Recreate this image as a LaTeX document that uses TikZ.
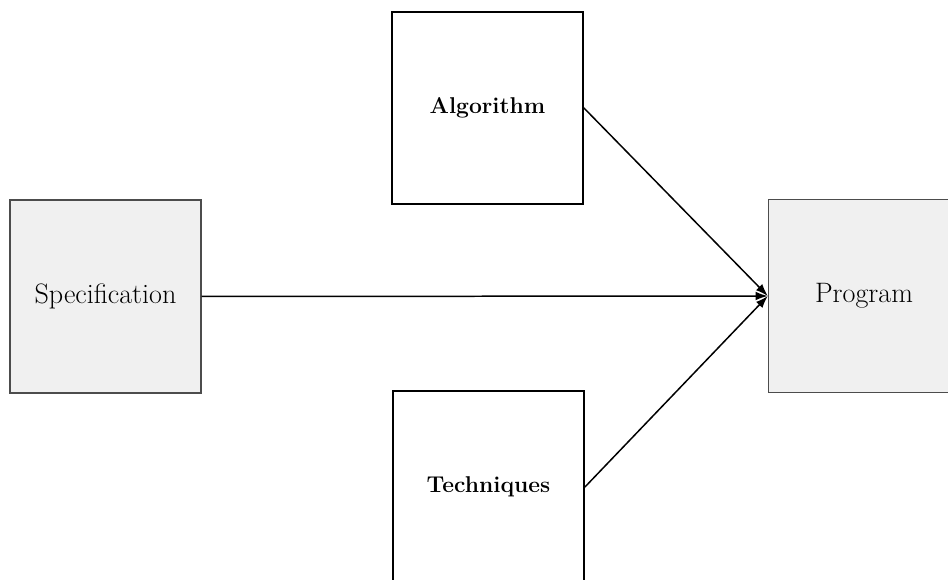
\documentclass[tikz,border=0pt]{standalone}
\usetikzlibrary{arrows.meta}
\tikzset{
  sheet/.style={draw=black!70, line width=0.8pt, fill=black!6,
    minimum width=3.82cm, minimum height=3.86cm,
    font=\fontsize{16}{19}\selectfont},
  part/.style={draw, line width=1.1pt, fill=white,
    minimum width=3.82cm, minimum height=3.84cm,
    font=\fontsize{13}{16}\selectfont\bfseries},
  feed/.style={line width=0.85pt, -{Latex[length=7pt,width=5pt]}}
}
\begin{document}
\begin{tikzpicture}[x=0.02cm, y=-0.02cm]
			%%%%% START %%%%%
			\useasboundingbox (0, 0) rectangle (948, 580);
			
			\node[sheet] (spec) at (105.5, 296.5) {Specification};
			\node[sheet] (prog) at (864, 296) {Program};
			
			\node[part] (algo) at (487.5, 108) {Algorithm};
			\node[part] (tech) at (488.5, 487) {Techniques};
			
			\draw[feed] (spec.east) -- (prog.west);
			\draw[feed] (algo.east) -- (prog.west);
			\draw[feed] (tech.east) -- (prog.west);
			%%%%% END %%%%%
\end{tikzpicture}
\end{document}
